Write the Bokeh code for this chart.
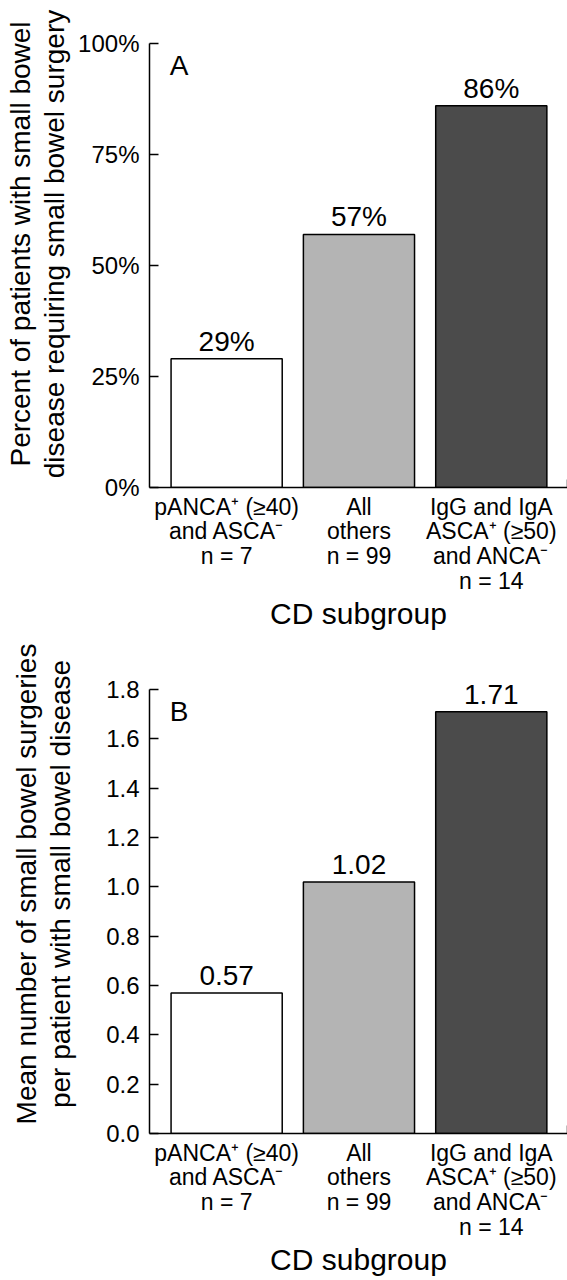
from bokeh.plotting import figure
from bokeh.models import (Range1d, FixedTicker, ColumnDataSource, LabelSet, Label,
                          PrintfTickFormatter, LinearAxis)
from bokeh.core.properties import value
from bokeh.layouts import column
from bokeh.embed import file_html
from bokeh.resources import INLINE

FONT = "Liberation Sans"

# ---- data ----
positions = [0, 1, 2]
category_labels = [
    "pANCA\u207a (\u226540)\nand ASCA\u207b\nn = 7",
    "All\nothers\nn = 99",
    "IgG and IgA\nASCA\u207a (\u226550)\nand ANCA\u207b\nn = 14",
]
bar_colors = ["#ffffff", "#b4b4b4", "#4b4b4b"]

pct_values = [29, 57, 86]
pct_text = ["29%", "57%", "86%"]
pct_ticks = [0, 25, 50, 75, 100]

mean_values = [0.57, 1.02, 1.71]
mean_text = ["0.57", "1.02", "1.71"]
mean_ticks = [0.0, 0.2, 0.4, 0.6, 0.8, 1.0, 1.2, 1.4, 1.6, 1.8]

x_title = "CD subgroup"
y_title_a = "Percent of patients with small bowel\ndisease requiring small bowel surgery"
y_title_b = "Mean number of small bowel surgeries\nper patient with small bowel disease"

AXIS_H = 444       # px covered by the drawn y axis
BOTTOM = 147       # px below the frame for category labels + title


def make_panel(values, texts, ticks, fmt, ytitle, letter, frame_h, ystand):
    ymax = ticks[-1]
    yend = ymax * frame_h / AXIS_H
    height = frame_h + BOTTOM
    p = figure(width=567, height=height, output_backend="svg", toolbar_location=None,
               x_range=Range1d(-0.583, 2.576), y_range=Range1d(0, yend),
               min_border_left=149, min_border_right=0, min_border_top=0,
               min_border_bottom=BOTTOM)
    p.outline_line_color = None
    p.grid.visible = False
    p.background_fill_color = "white"

    src = ColumnDataSource(dict(x=positions, top=values, color=bar_colors, label=texts))
    p.vbar(x="x", top="top", bottom=0, width=0.84, source=src, fill_color="color",
           line_color="black", line_width=1.5)
    p.add_layout(LabelSet(x="x", y="top", text="label", source=src, text_align="center",
                          text_baseline="alphabetic", y_offset=8, text_font=value(FONT),
                          text_font_size=value("28px"), text_color="black"))
    p.add_layout(Label(x=-0.43, y=ymax * 0.95, text=letter, text_align="left",
                       text_baseline="alphabetic", text_font=FONT, text_font_size="28px",
                       text_color="black"))

    # y axis
    ya = p.yaxis[0]
    ya.bounds = (0, ymax)
    ya.ticker = FixedTicker(ticks=ticks)
    ya.formatter = PrintfTickFormatter(format=fmt)
    ya.major_tick_in = 9
    ya.major_tick_out = 0
    ya.minor_tick_line_color = None
    ya.axis_line_width = 1.5
    ya.major_tick_line_width = 1.5
    ya.axis_line_color = "black"
    ya.major_tick_line_color = "black"
    ya.major_label_standoff = 10
    ya.major_label_text_font = FONT
    ya.major_label_text_font_size = "24px"
    ya.major_label_text_color = "black"
    ya.axis_label = ytitle
    ya.axis_label_standoff = ystand
    ya.axis_label_text_font = FONT
    ya.axis_label_text_font_size = "28px"
    ya.axis_label_text_font_style = "normal"
    ya.axis_label_text_color = "black"
    ya.axis_label_text_line_height = 1.1

    # small end mark at the right end of the x axis
    ra = LinearAxis(bounds=(0, ymax * 8 / AXIS_H), ticker=FixedTicker(ticks=[]),
                    axis_line_width=1.5, axis_line_color="black",
                    major_tick_line_color=None, minor_tick_line_color=None,
                    major_label_text_font_size="0px", major_label_standoff=0)
    p.add_layout(ra, "right")

    # x axis
    xa = p.xaxis[0]
    xa.ticker = FixedTicker(ticks=positions)
    xa.major_label_overrides = {i: lab for i, lab in zip(positions, category_labels)}
    xa.major_tick_line_color = None
    xa.minor_tick_line_color = None
    xa.axis_line_width = 1.5
    xa.axis_line_color = "black"
    xa.major_label_standoff = 0
    xa.major_label_text_font = FONT
    xa.major_label_text_font_size = "23px"
    xa.major_label_text_color = "black"
    xa.major_label_text_line_height = 0.95
    xa.axis_label = x_title
    xa.axis_label_standoff = 0
    xa.axis_label_text_font = FONT
    xa.axis_label_text_font_size = "30px"
    xa.axis_label_text_font_style = "normal"
    xa.axis_label_text_color = "black"
    return p


pa = make_panel(pct_values, pct_text, pct_ticks, "%d%%", y_title_a, "A", 487, 5)
pb = make_panel(mean_values, mean_text, mean_ticks, "%.1f", y_title_b, "B", 499, 27)

layout = column(pa, pb, spacing=0)
open("out.html", "w").write(file_html(layout, INLINE))
